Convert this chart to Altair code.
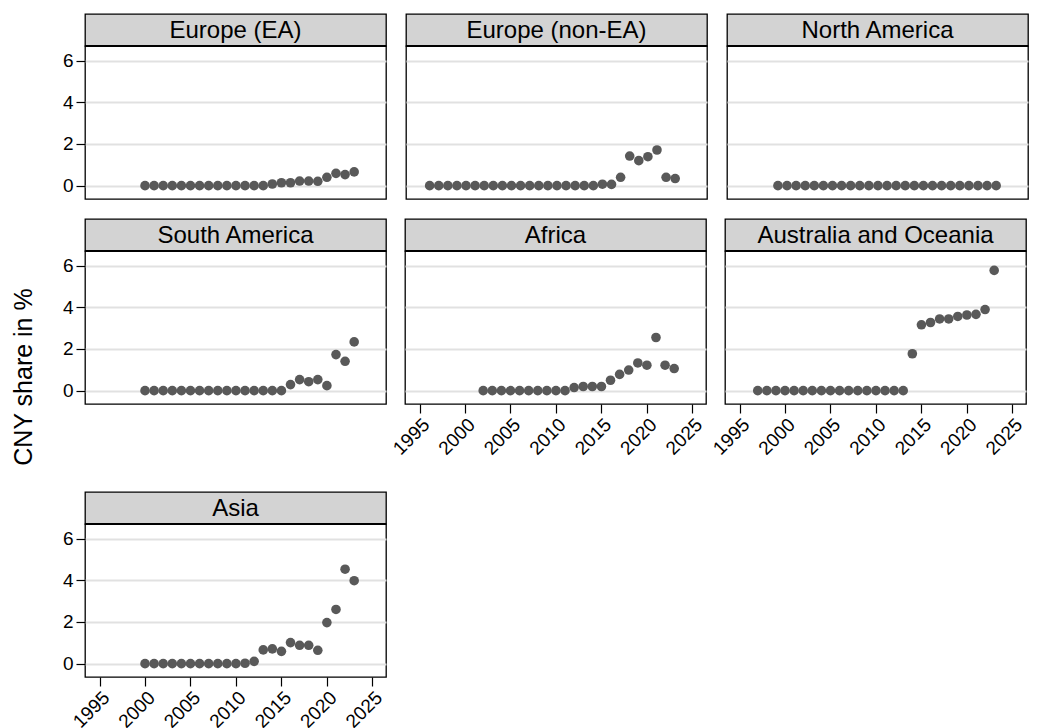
import altair as alt
import pandas as pd

FONT = "Liberation Sans"

regions = ["Europe (EA)", "Europe (non-EA)", "North America",
           "South America", "Africa", "Australia and Oceania", "Asia"]

years_europe_ea = list(range(2000, 2024))
share_europe_ea = [0, 0, 0, 0, 0, 0, 0, 0, 0, 0, 0, 0, 0, 0,
                   0.08, 0.14, 0.14, 0.22, 0.22, 0.21, 0.40, 0.59, 0.53, 0.66]

years_europe_non_ea = list(range(1996, 2024))
share_europe_non_ea = [0, 0, 0, 0, 0, 0, 0, 0, 0, 0, 0, 0, 0, 0, 0, 0, 0, 0, 0,
                       0.07, 0.06, 0.40, 1.42, 1.20, 1.39, 1.71, 0.40, 0.34]

years_north_america = list(range(1999, 2024))
share_north_america = [0, 0, 0, 0, 0, 0, 0, 0, 0, 0, 0, 0, 0, 0, 0, 0, 0, 0,
                       0, 0, 0, 0, 0, 0, 0]

years_south_america = list(range(2000, 2024))
share_south_america = [0, 0, 0, 0, 0, 0, 0, 0, 0, 0, 0, 0, 0, 0, 0, 0,
                       0.29, 0.53, 0.43, 0.53, 0.24, 1.73, 1.41, 2.34]

years_africa = list(range(2002, 2024))
share_africa = [0, 0, 0, 0, 0, 0, 0, 0, 0, 0,
                0.15, 0.20, 0.20, 0.20, 0.50, 0.78, 0.99, 1.33, 1.22, 2.55, 1.22, 1.06]

years_australia = list(range(1997, 2024))
share_australia = [0, 0, 0, 0, 0, 0, 0, 0, 0, 0, 0, 0, 0, 0, 0, 0, 0,
                   1.77, 3.16, 3.27, 3.44, 3.44, 3.56, 3.63, 3.66, 3.89, 5.77]

years_asia = list(range(2000, 2024))
share_asia = [0, 0, 0, 0, 0, 0, 0, 0, 0, 0, 0, 0.02,
              0.11, 0.66, 0.71, 0.59, 1.01, 0.88, 0.88, 0.64, 1.97, 2.60, 4.53, 3.98]

x_tick_values = [1995, 2000, 2005, 2010, 2015, 2020, 2025]
y_tick_values = [0, 2, 4, 6]
y_title = "CNY share in %"

series = [
    (years_europe_ea, share_europe_ea),
    (years_europe_non_ea, share_europe_non_ea),
    (years_north_america, share_north_america),
    (years_south_america, share_south_america),
    (years_africa, share_africa),
    (years_australia, share_australia),
    (years_asia, share_asia),
]

frames = []
for name, (yrs, vals) in zip(regions, series):
    frames.append(pd.DataFrame({"region": name, "year": yrs, "share": vals}))
data = pd.concat(frames, ignore_index=True)

W, H, HH = 301, 153, 32
XDOM = [1993.4, 2026.5]
YDOM = [-0.64, 6.7]
GRID = "#e1e1e1"


def panel(name, show_x, show_y):
    hdr = alt.Chart(pd.DataFrame({"label": [name]}))
    htext = hdr.mark_text(font=FONT, fontSize=24, color="black",
                          baseline="alphabetic", align="center").encode(
        x=alt.value(W / 2), y=alt.value(24), text="label:N")
    hrule = hdr.mark_rule(color="black", strokeWidth=2.2).encode(
        x=alt.value(0), x2=alt.value(W), y=alt.value(HH))
    header = alt.layer(hrule, htext).properties(
        width=W, height=HH,
        view=alt.ViewConfig(fill="#d3d3d3", stroke="black", strokeWidth=1.3))

    if show_x:
        xaxis = alt.Axis(values=x_tick_values, format="d", labelAngle=315,
                         grid=False, domain=False, ticks=True, tickSize=9,
                         tickColor="black", tickWidth=1.2, labelPadding=2,
                         labelFont=FONT, labelFontSize=19, labelColor="black",
                         title=None)
    else:
        xaxis = None

    if show_y:
        yaxis = alt.Axis(values=y_tick_values, grid=True, gridColor=GRID,
                         gridWidth=2, domain=False, ticks=True, tickSize=9,
                         tickColor="black", tickWidth=1.2, labelPadding=3,
                         labelFont=FONT, labelFontSize=19, labelColor="black",
                         title=None)
    else:
        yaxis = alt.Axis(values=y_tick_values, grid=True, gridColor=GRID,
                         gridWidth=2, domain=False, ticks=False, labels=False,
                         title=None)

    plot = alt.Chart(data).transform_filter(
        alt.datum.region == name
    ).mark_circle(size=92, color="#595959", opacity=1).encode(
        x=alt.X("year:Q", scale=alt.Scale(domain=XDOM, nice=False, zero=False),
                axis=xaxis),
        y=alt.Y("share:Q", scale=alt.Scale(domain=YDOM, nice=False, zero=False),
                axis=yaxis),
    ).properties(width=W, height=H)

    return alt.vconcat(header, plot, spacing=0, bounds="flush")


p1 = panel(regions[0], False, True)
p2 = panel(regions[1], False, False)
p3 = panel(regions[2], False, False)
p4 = panel(regions[3], False, True)
p5 = panel(regions[4], True, False)
p6 = panel(regions[5], True, False)
p7 = panel(regions[6], True, True)

row1 = alt.hconcat(p1, p2, p3, spacing=16)
row2 = alt.hconcat(p4, p5, p6, spacing=1)
top = alt.vconcat(row1, row2, spacing=18)
grid = alt.vconcat(top, p7, spacing=32)

ytitle_chart = alt.Chart(pd.DataFrame({"t": [y_title]})).mark_text(
    font=FONT, fontSize=25, color="black", angle=270,
    align="center", baseline="middle").encode(
    x=alt.value(12.5), y=alt.value(363), text="t:N"
).properties(width=41, height=600,
             view=alt.ViewConfig(stroke="transparent"))

chart = alt.hconcat(ytitle_chart, grid, spacing=8).properties(
    padding={"left": 2, "top": 5, "right": 0, "bottom": 0}
).configure_view(stroke="black", strokeWidth=1.3)

chart.save("out.html", embed_options={"renderer": "svg", "actions": False})
